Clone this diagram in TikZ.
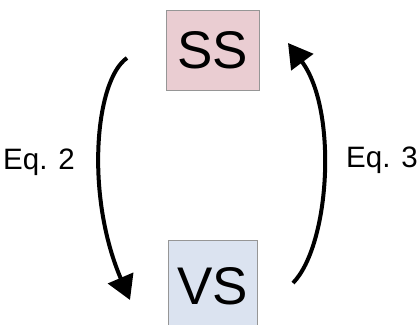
\documentclass[tikz,border=0pt]{standalone}
\usepackage{fontspec}
\setmainfont{Liberation Sans}
\usetikzlibrary{arrows.meta}
\definecolor{ssfill}{RGB}{234,205,210}
\definecolor{vsfill}{RGB}{219,227,240}
\definecolor{boxline}{RGB}{150,150,150}
\tikzset{
  statebox/.style={draw=boxline, line width=1pt, inner sep=0pt,
    font=\fontsize{53}{60}\selectfont},
  flow/.style={line width=4pt, -{Triangle[length=24pt,width=27pt]}},
  eqlabel/.style={font=\fontsize{29.5}{34}\selectfont, inner sep=0pt}
}
\begin{document}
\begin{tikzpicture}[x=1pt,y=-1pt]
  \useasboundingbox (0,0) rectangle (420,324);
  \clip (0,0) rectangle (420,324);
  \node[statebox, fill=ssfill, minimum width=93pt, minimum height=80pt] (ss) at (212.5,50) {SS};
  % the lower box runs past the bottom edge; its text is lifted to stay at the box's upper part
  \node[statebox, fill=vsfill, minimum width=89pt, minimum height=100pt] (vs) at (212.5,290) {\raisebox{9pt}{VS}};
  \coordinate (l0) at (127,58);
  \coordinate (l1) at (130,300);
  \coordinate (r0) at (293,283);
  \coordinate (r1) at (288,43);
  \draw[flow] (l0) .. controls (95,80) and (85,195) .. (l1);
  \draw[flow] (r0) .. controls (330,245) and (338,110) .. (r1);
  \node[eqlabel, anchor=west] (eq2) at (3,162) {Eq. 2};
  \node[eqlabel, anchor=east] (eq3) at (418,160) {Eq. 3};
\end{tikzpicture}
\end{document}
